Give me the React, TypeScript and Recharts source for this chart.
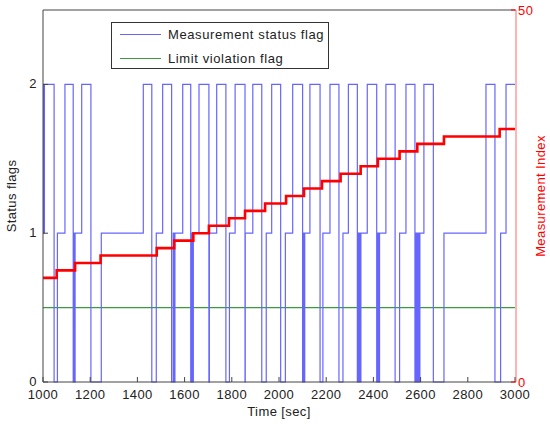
import React from "react";
import { LineChart, Line, XAxis, YAxis, Label } from "recharts";

const FONT = '"Liberation Sans", Arial, sans-serif';

// measurement status flag (0 / 1 / 2), value holds until the next time
const statusTimes = [
  1000, 1002, 1004, 1006, 1047, 1061, 1093, 1128, 1131, 1133, 1136, 1164, 1203, 1247, 1425, 1461,
  1480, 1507, 1545, 1552, 1555, 1559, 1592, 1626, 1629, 1631, 1633, 1635, 1637, 1661, 1703, 1705,
  1736, 1775, 1790, 1814, 1856, 1857, 1889, 1927, 1946, 1969, 2007, 2027, 2058, 2100, 2104, 2107,
  2109, 2131, 2174, 2186, 2216, 2254, 2271, 2294, 2332, 2336, 2339, 2342, 2344, 2347, 2374, 2414,
  2418, 2421, 2426, 2453, 2492, 2511, 2538, 2576, 2580, 2584, 2588, 2592, 2597, 2614, 2654, 2699,
  2877, 2915, 2939, 2962, 3000,
];
const statusValues = [
  1, 2, 1, 2, 0, 1, 2, 0, 1, 0, 1, 2, 0, 1, 2, 0,
  1, 2, 0, 1, 0, 1, 2, 0, 1, 0, 1, 0, 1, 2, 0, 1,
  2, 0, 1, 2, 0, 1, 2, 0, 1, 2, 0, 1, 2, 0, 1, 0,
  1, 2, 0, 1, 2, 0, 1, 2, 0, 1, 0, 1, 0, 1, 2, 0,
  1, 0, 1, 2, 0, 1, 2, 0, 1, 0, 1, 0, 1, 2, 0, 1,
  2, 0, 1, 2, 2,
];

// measurement index (right axis)
const indexTimes = [
  1000, 1058, 1136, 1244, 1482, 1556, 1637, 1703, 1788, 1856, 1941, 2030, 2106, 2182, 2261, 2346,
  2419, 2511, 2586, 2699, 2935, 3000,
];
const indexValues = [
  14, 15, 16, 17, 18, 19, 20, 21, 22, 23, 24, 25, 26, 27, 28, 29,
  30, 31, 32, 33, 34, 34,
];

// limit violation flag
const limitTimes = [1000, 3000];
const limitValues = [0.5, 0.5];

const timeTicks = [1000, 1200, 1400, 1600, 1800, 2000, 2200, 2400, 2600, 2800, 3000];
const flagTicks = [0, 1, 2];
const indexTicks = [0, 50];

const legendItems = [
  { name: "Measurement status flag", color: "#6666ff" },
  { name: "Limit violation flag", color: "#3c9a3c" },
];

const statusData = statusTimes.map((t, i) => ({ t, v: statusValues[i] }));
const indexData = indexTimes.map((t, i) => ({ t, v: indexValues[i] }));
const limitData = limitTimes.map((t, i) => ({ t, v: limitValues[i] }));

const AXIS = "#444";
const RED = "#ff0000";
const TXT = { fontSize: 13, fontFamily: FONT, letterSpacing: 0.4 };

const BottomTick = (props: any) => {
  const { x, y, payload } = props;
  return (
    <g>
      <line x1={x} y1={y} x2={x} y2={y - 5} stroke={AXIS} />
      <text x={x} y={y + 17} textAnchor="middle" {...TXT} fill="#222">
        {payload.value}
      </text>
    </g>
  );
};

// top edge of the box: tick marks only, pointing down
const TopTick = (props: any) => {
  const { x, y } = props;
  return <line x1={x} y1={y + 1} x2={x} y2={y + 6} stroke={AXIS} />;
};

const LeftTick = (props: any) => {
  const { x, y, payload } = props;
  return (
    <g>
      <line x1={x} y1={y} x2={x + 5} y2={y} stroke={AXIS} />
      <text x={x - 6} y={y + 4} textAnchor="end" {...TXT} fill="#222">
        {payload.value}
      </text>
    </g>
  );
};

// left-scale ticks repeated on the right edge
const MirrorTick = (props: any) => {
  const { x, y } = props;
  return <line x1={x - 1} y1={y} x2={x - 6} y2={y} stroke={AXIS} />;
};

const RightTick = (props: any) => {
  const { x, y, payload } = props;
  return (
    <g>
      <line x1={x} y1={y} x2={x - 5} y2={y} stroke={RED} />
      <text x={x + 2} y={y + 4.5} textAnchor="start" {...TXT} fill={RED}>
        {payload.value}
      </text>
    </g>
  );
};

const LegendBox = () => (
  <div
    style={{
      position: "absolute",
      left: 111,
      top: 22,
      width: 218,
      height: 47,
      border: "1px solid #333",
      background: "#fff",
      boxSizing: "border-box",
    }}
  >
    <svg width={216} height={45} style={{ display: "block" }}>
      {legendItems.map((item, i) => (
        <g key={item.name}>
          <line x1={8} x2={49} y1={11.5 + i * 24} y2={11.5 + i * 24} stroke={item.color} strokeWidth={1.2} />
          <text x={56} y={16 + i * 24} {...TXT} letterSpacing={0.6} fill="#222">
            {item.name}
          </text>
        </g>
      ))}
    </svg>
  </div>
);

export default function App() {
  return (
    <div style={{ position: "absolute", left: 0, top: 0, width: 550, height: 424, background: "#fff" }}>
      <LineChart width={550} height={424} margin={{ top: 9, right: 0, bottom: 0, left: 0 }}>
        <XAxis
          xAxisId="bottom"
          type="number"
          dataKey="t"
          domain={[1000, 3000]}
          ticks={timeTicks}
          interval={0}
          height={42}
          tickSize={0}
          tickLine={false}
          tickMargin={0}
          tick={<BottomTick />}
          axisLine={{ stroke: AXIS }}
          allowDataOverflow
        >
          <Label
            content={(p: any) => {
              const vb = p.viewBox;
              return (
                <text x={vb.x + vb.width / 2} y={vb.y + 34} textAnchor="middle" {...TXT} fill="#222">
                  Time [sec]
                </text>
              );
            }}
          />
        </XAxis>
        <XAxis
          xAxisId="top"
          orientation="top"
          type="number"
          dataKey="t"
          domain={[1000, 3000]}
          ticks={timeTicks}
          interval={0}
          height={1}
          tickSize={0}
          tickLine={false}
          tickMargin={0}
          tick={<TopTick />}
          axisLine={{ stroke: AXIS }}
        />
        <YAxis
          yAxisId="left"
          domain={[0, 2.5]}
          ticks={flagTicks}
          interval={0}
          width={43}
          tickSize={0}
          tickLine={false}
          tickMargin={0}
          tick={<LeftTick />}
          axisLine={{ stroke: AXIS }}
        >
          <Label
            content={(p: any) => {
              const vb = p.viewBox;
              const cx = vb.x + 16;
              const cy = vb.y + vb.height / 2;
              return (
                <text x={cx} y={cy} transform={`rotate(-90, ${cx}, ${cy})`} textAnchor="middle" {...TXT} fill="#222">
                  Status flags
                </text>
              );
            }}
          />
        </YAxis>
        <YAxis
          yAxisId="mirror"
          orientation="right"
          domain={[0, 2.5]}
          ticks={flagTicks}
          interval={0}
          width={1}
          tickSize={0}
          tickLine={false}
          tickMargin={0}
          tick={<MirrorTick />}
          axisLine={false}
        />
        <YAxis
          yAxisId="right"
          orientation="right"
          domain={[0, 50]}
          ticks={indexTicks}
          interval={0}
          width={34}
          tickSize={0}
          tickLine={false}
          tickMargin={0}
          tick={<RightTick />}
          axisLine={{ stroke: "#ff6a6a" }}
        >
          <Label
            content={(p: any) => {
              const vb = p.viewBox;
              const cx = vb.x + 29;
              const cy = vb.y + vb.height / 2;
              return (
                <text x={cx} y={cy} transform={`rotate(-90, ${cx}, ${cy})`} textAnchor="middle" {...TXT} fill={RED}>
                  Measurement Index
                </text>
              );
            }}
          />
        </YAxis>
        <Line
          xAxisId="bottom"
          yAxisId="left"
          data={limitData}
          dataKey="v"
          type="linear"
          stroke="#3c9a3c"
          strokeWidth={1.2}
          dot={false}
          isAnimationActive={false}
        />
        <Line
          xAxisId="bottom"
          yAxisId="left"
          data={statusData}
          dataKey="v"
          type="stepAfter"
          stroke="#6666ff"
          strokeWidth={1.2}
          dot={false}
          isAnimationActive={false}
        />
        <Line
          xAxisId="bottom"
          yAxisId="right"
          data={indexData}
          dataKey="v"
          type="stepAfter"
          stroke={RED}
          strokeWidth={2.6}
          dot={false}
          isAnimationActive={false}
        />
      </LineChart>
      <LegendBox />
    </div>
  );
}
